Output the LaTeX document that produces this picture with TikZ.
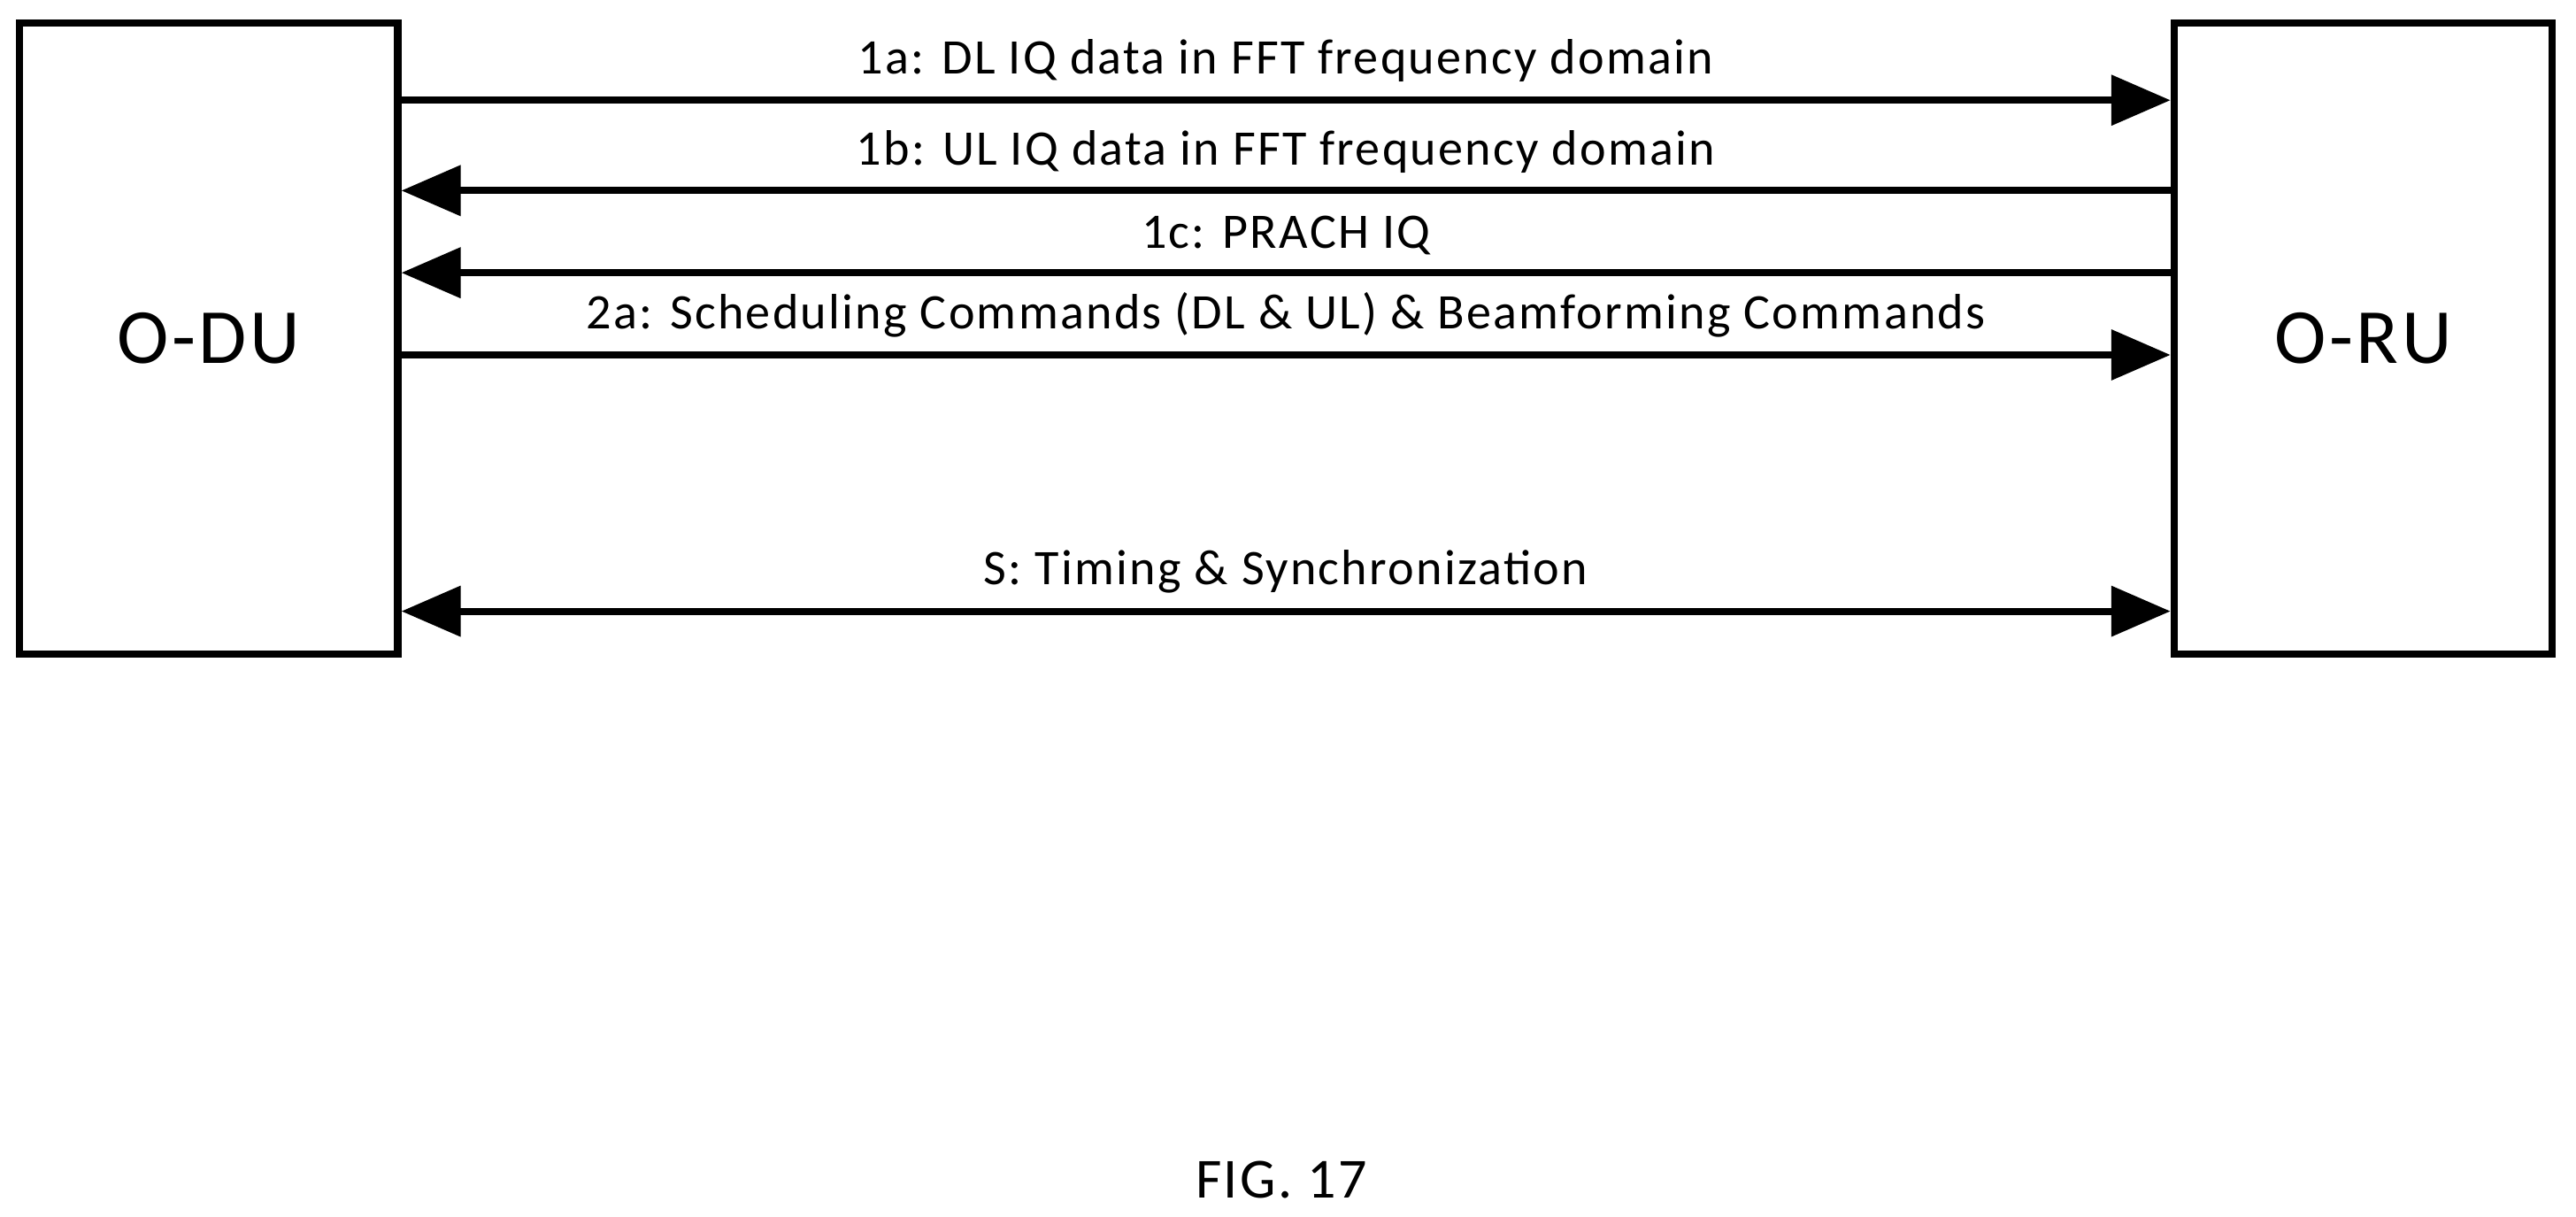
\documentclass[tikz,border=0pt]{standalone}
\usepackage{fontspec}
\setmainfont{Carlito}[LetterSpace=4]
\usetikzlibrary{positioning, arrows.meta}

\begin{document}
\begin{tikzpicture}[
x=0.01cm, y=-0.01cm,
unit/.style={rectangle, draw=black, line width=1.3pt, minimum width=2.3cm, minimum height=3.84cm, font=\fontsize{13.5}{16}\selectfont},
link/.style={line width=1.2pt, -{Triangle[length=0.36cm,width=0.3cm]}},
lbl/.style={font=\fontsize{8.6}{10}\selectfont, inner sep=1pt}
]
\useasboundingbox (0,0) rectangle (1568,740.5);
%Nodes
\node[unit] (ODU) at (127,206) {O-DU};
\node[unit] (ORU) at (1438.5,206) {O-RU};
\node[font=\fontsize{9.8}{12}\selectfont] (fig) at (780,718) {FIG. 17};

%Lines
\draw[link] (ODU.east |- 0,61) -- node[lbl, above=1.5pt] {1a: DL IQ data in FFT frequency domain} (ORU.west |- 0,61);
\draw[link] (ORU.west |- 0,116) -- node[lbl, above=1.5pt] {1b: UL IQ data in FFT frequency domain} (ODU.east |- 0,116);
\draw[link] (ORU.west |- 0,166) -- node[lbl, above=1.5pt] {1c: PRACH IQ} (ODU.east |- 0,166);
\draw[link] (ODU.east |- 0,216) -- node[lbl, above=1.5pt] {2a: Scheduling Commands (DL \& UL) \& Beamforming Commands} (ORU.west |- 0,216);
\draw[link, {Triangle[length=0.36cm,width=0.3cm]}-{Triangle[length=0.36cm,width=0.3cm]}] (ODU.east |- 0,372) -- node[lbl, above=1.5pt] {S: Timing \& Synchronization} (ORU.west |- 0,372);
\end{tikzpicture}
\end{document}
